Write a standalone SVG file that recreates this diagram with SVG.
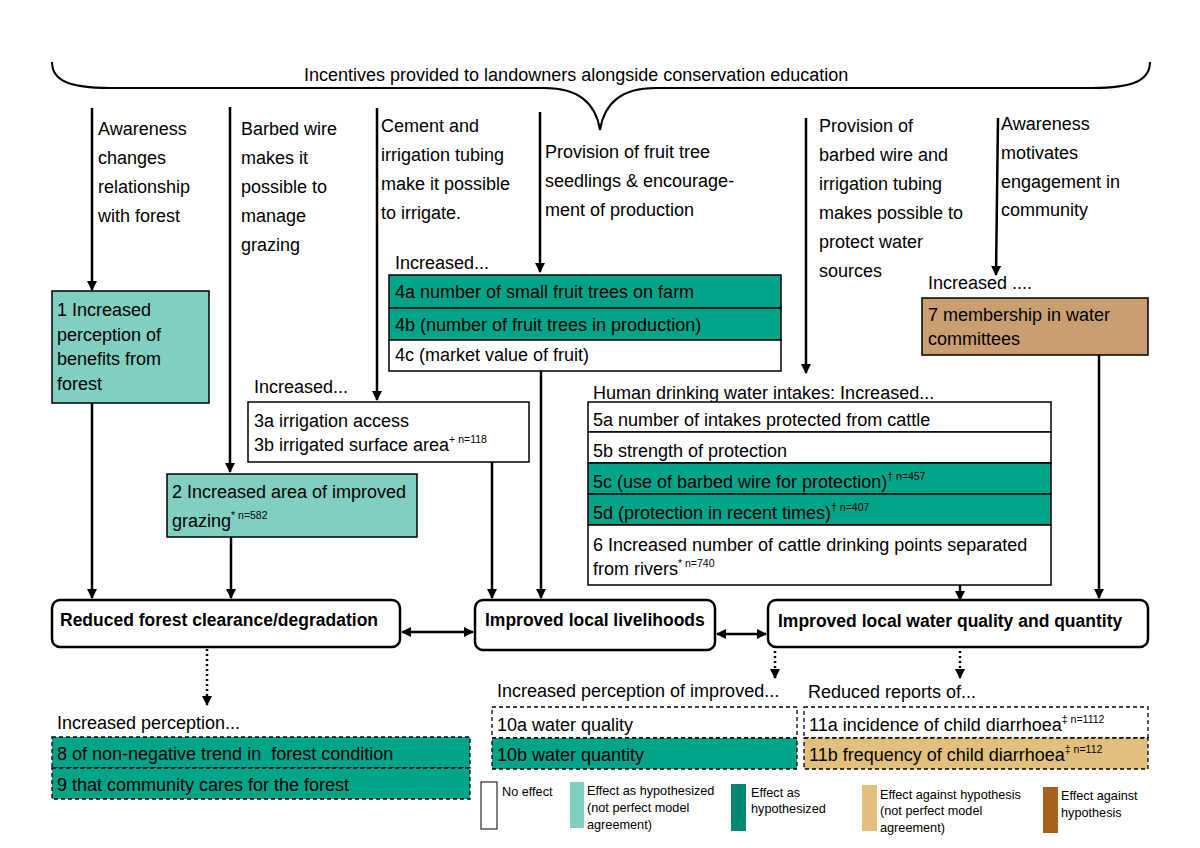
<svg xmlns="http://www.w3.org/2000/svg" width="1200" height="848" viewBox="0 0 1200 848">
<style>
text{font-family:"Liberation Sans",Arial,sans-serif;fill:#000}
.t{font-size:18px}
.b{font-size:17.5px;font-weight:bold}
.lg{font-size:12.7px}
.sup{font-size:10.5px}
.box{stroke:#000;stroke-width:1.5}
.dash{stroke:#000;stroke-width:1.3;stroke-dasharray:4,3}
.main{fill:#fff;stroke:#000;stroke-width:2.5}
.ar{fill:none;stroke:#000;stroke-width:2.5}
.dot{fill:none;stroke:#000;stroke-width:2.5;stroke-dasharray:2,3}
.lt{fill:#80cfc1}
.dk{fill:#00a589}
.wh{fill:#fff}
.br{fill:#c99f71}
.tn{fill:#e0c07c}
</style>
<defs>
<marker id="ah" markerWidth="10" markerHeight="10" refX="9" refY="5" orient="auto" markerUnits="userSpaceOnUse">
<path d="M0,0 L10,5 L0,10 Z" fill="#000"/>
</marker>
<marker id="as" markerWidth="10" markerHeight="10" refX="1" refY="5" orient="auto" markerUnits="userSpaceOnUse">
<path d="M10,0 L0,5 L10,10 Z" fill="#000"/>
</marker>
</defs>
<rect width="1200" height="848" fill="#fff"/>

<g id="brace">
<path d="M52,62 C52,80 68,88 110,88 L545,88 C580,88 596,105 600,130 C604,105 620,88 655,88 L1092,88 C1134,88 1150,80 1150,62" fill="none" stroke="#000" stroke-width="2"/>
<text class="t" x="304" y="81">Incentives provided to landowners alongside conservation education</text>
</g>

<g id="labels">
<text class="t" x="98" y="135">Awareness</text>
<text class="t" x="98" y="164">changes</text>
<text class="t" x="98" y="193">relationship</text>
<text class="t" x="98" y="222">with forest</text>
<text class="t" x="241" y="135">Barbed wire</text>
<text class="t" x="241" y="164">makes it</text>
<text class="t" x="241" y="193">possible to</text>
<text class="t" x="241" y="222">manage</text>
<text class="t" x="241" y="251">grazing</text>
<text class="t" x="381" y="132">Cement and</text>
<text class="t" x="381" y="161">irrigation tubing</text>
<text class="t" x="381" y="190">make it possible</text>
<text class="t" x="381" y="219">to irrigate.</text>
<text class="t" x="545" y="158">Provision of fruit tree</text>
<text class="t" x="545" y="187">seedlings &amp; encourage-</text>
<text class="t" x="545" y="216">ment of production</text>
<text class="t" x="819" y="132">Provision of</text>
<text class="t" x="819" y="161">barbed wire and</text>
<text class="t" x="819" y="190">irrigation tubing</text>
<text class="t" x="819" y="219">makes possible to</text>
<text class="t" x="819" y="248">protect water</text>
<text class="t" x="819" y="277">sources</text>
<text class="t" x="1001" y="130">Awareness</text>
<text class="t" x="1001" y="159">motivates</text>
<text class="t" x="1001" y="188">engagement in</text>
<text class="t" x="1001" y="216">community</text>
</g>

<g id="connectors">
<line class="ar" x1="92" y1="108" x2="92" y2="290" marker-end="url(#ah)"/>
<line class="ar" x1="230" y1="107" x2="230" y2="472" marker-end="url(#ah)"/>
<line class="ar" x1="377" y1="108" x2="377" y2="400" marker-end="url(#ah)"/>
<line class="ar" x1="540" y1="112" x2="540" y2="272" marker-end="url(#ah)"/>
<line class="ar" x1="806" y1="118" x2="806" y2="373" marker-end="url(#ah)"/>
<line class="ar" x1="998" y1="118" x2="996" y2="275" marker-end="url(#ah)"/>
<line class="ar" x1="92" y1="403" x2="92" y2="598" marker-end="url(#ah)"/>
<line class="ar" x1="231" y1="537" x2="231" y2="598" marker-end="url(#ah)"/>
<line class="ar" x1="492" y1="462" x2="492" y2="598" marker-end="url(#ah)"/>
<line class="ar" x1="541" y1="371" x2="541" y2="598" marker-end="url(#ah)"/>
<line class="ar" x1="960" y1="585" x2="960" y2="600" marker-end="url(#ah)"/>
<line class="ar" x1="1099" y1="355" x2="1099" y2="598" marker-end="url(#ah)"/>
<line class="ar" x1="402" y1="632" x2="473" y2="632" marker-start="url(#as)" marker-end="url(#ah)"/>
<line class="ar" x1="717" y1="634" x2="766" y2="634" marker-start="url(#as)" marker-end="url(#ah)"/>
<line class="dot" x1="207" y1="649" x2="207" y2="705" marker-end="url(#ah)"/>
<line class="dot" x1="775" y1="651" x2="775" y2="678" marker-end="url(#ah)"/>
<line class="dot" x1="960" y1="651" x2="960" y2="678" marker-end="url(#ah)"/>
</g>

<g id="n1">
<rect class="box lt" x="52" y="291" width="157" height="112"/>
<text class="t" x="57" y="316">1 Increased</text>
<text class="t" x="57" y="341">perception of</text>
<text class="t" x="57" y="365">benefits from</text>
<text class="t" x="57" y="390">forest</text>
</g>

<g id="n2">
<rect class="box lt" x="167" y="474" width="250" height="63"/>
<text class="t" x="172" y="498">2 Increased area of improved</text>
<text class="t" x="172" y="527">grazing<tspan class="sup" dy="-8">* n=582</tspan></text>
</g>

<g id="n3">
<text class="t" x="254" y="393">Increased...</text>
<rect class="box wh" x="248" y="402" width="281" height="60"/>
<text class="t" x="254" y="427">3a irrigation access</text>
<text class="t" x="254" y="451">3b irrigated surface area<tspan class="sup" dy="-8">+ n=118</tspan></text>
</g>

<g id="n4">
<text class="t" x="395" y="269">Increased...</text>
<rect class="box dk" x="389" y="275" width="392" height="33"/>
<rect class="box dk" x="389" y="308" width="392" height="32"/>
<rect class="box wh" x="389" y="340" width="392" height="31"/>
<text class="t" x="395" y="298">4a number of small fruit trees on farm</text>
<text class="t" x="395" y="331">4b (number of fruit trees in production)</text>
<text class="t" x="395" y="361">4c (market value of fruit)</text>
</g>

<g id="n5">
<text class="t" x="593" y="399">Human drinking water intakes: Increased...</text>
<rect class="box wh" x="588" y="402" width="463" height="30"/>
<rect class="box wh" x="588" y="432" width="463" height="31"/>
<rect class="box dk" x="588" y="463" width="463" height="31"/>
<rect class="box dk" x="588" y="494" width="463" height="31"/>
<rect class="box wh" x="588" y="525" width="463" height="60"/>
<text class="t" x="593" y="426">5a number of intakes protected from cattle</text>
<text class="t" x="593" y="457">5b strength of protection</text>
<text class="t" x="593" y="488">5c (use of barbed wire for protection)<tspan class="sup" dy="-8">† n=457</tspan></text>
<text class="t" x="593" y="519">5d (protection in recent times)<tspan class="sup" dy="-8">† n=407</tspan></text>
<text class="t" x="593" y="551">6 Increased number of cattle drinking points separated</text>
<text class="t" x="593" y="575">from rivers<tspan class="sup" dy="-8">* n=740</tspan></text>
</g>

<g id="n7">
<text class="t" x="928" y="289">Increased ....</text>
<rect class="box br" x="922" y="298" width="226" height="57"/>
<text class="t" x="928" y="321">7 membership in water</text>
<text class="t" x="928" y="345">committees</text>
</g>

<g id="forest">
<rect class="main" x="52" y="600" width="348" height="47" rx="8"/>
<text class="b" x="60" y="626">Reduced forest clearance/degradation</text>
</g>

<g id="livelihoods">
<rect class="main" x="475" y="600" width="240" height="50" rx="8"/>
<text class="b" x="485" y="626">Improved local livelihoods</text>
</g>

<g id="water">
<rect class="main" x="768" y="600" width="380" height="47" rx="8"/>
<text class="b" x="778" y="627">Improved local water quality and quantity</text>
</g>

<g id="n8-9">
<text class="t" x="57" y="729">Increased perception...</text>
<rect class="dash dk" x="52" y="737" width="418" height="31"/>
<rect class="dash dk" x="52" y="768" width="418" height="31"/>
<text class="t" x="57" y="760" xml:space="preserve">8 of non-negative trend in  forest condition</text>
<text class="t" x="57" y="791">9 that community cares for the forest</text>
</g>

<g id="n10">
<text class="t" x="497" y="697">Increased perception of improved...</text>
<rect class="dash wh" x="492" y="707" width="305" height="31"/>
<rect class="dash dk" x="492" y="738" width="305" height="31"/>
<text class="t" x="497" y="731">10a water quality</text>
<text class="t" x="497" y="761">10b water quantity</text>
</g>

<g id="n11">
<text class="t" x="808" y="698">Reduced reports of...</text>
<rect class="dash wh" x="804" y="707" width="344" height="31"/>
<rect class="dash tn" x="804" y="738" width="344" height="31"/>
<text class="t" x="809" y="731">11a incidence of child diarrhoea<tspan class="sup" dy="-8">‡ n=1112</tspan></text>
<text class="t" x="809" y="761">11b frequency of child diarrhoea<tspan class="sup" dy="-8">‡ n=112</tspan></text>
</g>

<g id="legend">
<rect x="481" y="782" width="16" height="47" fill="#fff" stroke="#000" stroke-width="1"/>
<text class="lg" x="502" y="796">No effect</text>
<rect x="570" y="782" width="14" height="46" fill="#80cfc1"/>
<text class="lg" x="587" y="795">Effect as hypothesized</text>
<text class="lg" x="587" y="812">(not perfect model</text>
<text class="lg" x="587" y="829">agreement)</text>
<rect x="731" y="784" width="15" height="47" fill="#00876f"/>
<text class="lg" x="751" y="797">Effect as</text>
<text class="lg" x="751" y="813">hypothesized</text>
<rect x="862" y="785" width="15" height="46" fill="#e0c07c"/>
<text class="lg" x="880" y="799">Effect against hypothesis</text>
<text class="lg" x="880" y="815">(not perfect model</text>
<text class="lg" x="880" y="832">agreement)</text>
<rect x="1043" y="787" width="15" height="46" fill="#a8611e"/>
<text class="lg" x="1061" y="800">Effect against</text>
<text class="lg" x="1061" y="817">hypothesis</text>
</g>
</svg>
